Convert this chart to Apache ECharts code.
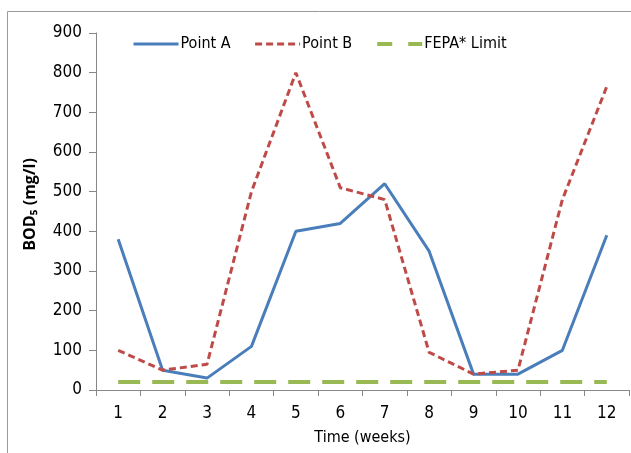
<!DOCTYPE html>
<html><head><meta charset="utf-8">
<script src="https://cdn.jsdelivr.net/npm/echarts@6/dist/echarts.min.js"></script>
<style>html,body{margin:0;padding:0;background:#fff}#c{width:631px;height:453px}</style>
</head><body><div id="c"></div>
<script>
const weeks = ['1','2','3','4','5','6','7','8','9','10','11','12'];
const pointA = [380, 50, 30, 110, 400, 420, 520, 350, 40, 40, 100, 390];
const pointB = [100, 50, 65, 500, 800, 510, 480, 95, 40, 50, 480, 765];
const fepa = [20, 20, 20, 20, 20, 20, 20, 20, 20, 20, 20, 20];
const FONT = '"Liberation Sans Narrow","DejaVu Sans Condensed","DejaVu Sans",sans-serif';
const BLUE = '#4A7EBB', RED = '#BE4B48', GREEN = '#98B954';
const chart = echarts.init(document.getElementById('c'));
chart.setOption({
  animation: false,
  backgroundColor: '#fff',
  graphic: [{type:'rect', shape:{x:7.5,y:11.5,width:640,height:460}, style:{fill:'none',stroke:'#9a9a9a',lineWidth:1}}],
  legend: {
    top: 31, left: 127, itemGap: 23, itemWidth: 45, itemHeight: 14,
    itemStyle: {opacity: 0},
    textStyle: {fontFamily: FONT, fontSize: 16, color: '#000', padding:[0,0,0,-3]},
    data: [
      {name:'Point A', lineStyle:{color:BLUE, width:3, type:'solid'}},
      {name:'Point B', lineStyle:{color:RED, width:3, type:[7,4]}},
      {name:'FEPA* Limit', lineStyle:{color:GREEN, width:4, type:[15,16]}}
    ]
  },
  grid: {left: 96, top: 33, right: 2, bottom: 63, containLabel: false},
  xAxis: {
    type: 'category', data: weeks, boundaryGap: true,
    name: 'Time (weeks)', nameLocation: 'middle', nameGap: 40,
    nameTextStyle: {fontFamily: FONT, fontSize: 16, color: '#000'},
    axisLine: {lineStyle: {color: '#888', width: 1}},
    axisTick: {show: true, length: 6, lineStyle: {color: '#888'}},
    axisLabel: {fontFamily: FONT, fontSize: 17, color: '#000', margin: 15}
  },
  yAxis: {
    type: 'value', min: 0, max: 900, interval: 100,
    name: 'BOD₅ (mg/l)', nameLocation: 'middle', nameGap: 58,
    nameTextStyle: {fontFamily: '"Open Sans","DejaVu Sans",sans-serif', fontWeight: 'bold', fontSize: 16, color: '#000', padding:[0,0,0,14]},
    axisLine: {show: true, lineStyle: {color: '#888', width: 1}},
    axisTick: {show: true, inside: false, length: 7, lineStyle: {color: '#888'}},
    splitLine: {show: false},
    axisLabel: {fontFamily: FONT, fontSize: 17, color: '#000', margin: 14}
  },
  series: [
    {name:'Point A', type:'line', data: pointA, symbol:'none', z:3,
     lineStyle:{color:BLUE, width:3}, itemStyle:{color:BLUE}},
    {name:'Point B', type:'line', data: pointB, symbol:'none', z:4,
     lineStyle:{color:RED, width:3, type:[7,4]}, itemStyle:{color:RED}},
    {name:'FEPA* Limit', type:'line', data: fepa, symbol:'none', z:2,
     lineStyle:{color:GREEN, width:4, type:[22,12]}, itemStyle:{color:GREEN}}
  ]
});
</script></body></html>
